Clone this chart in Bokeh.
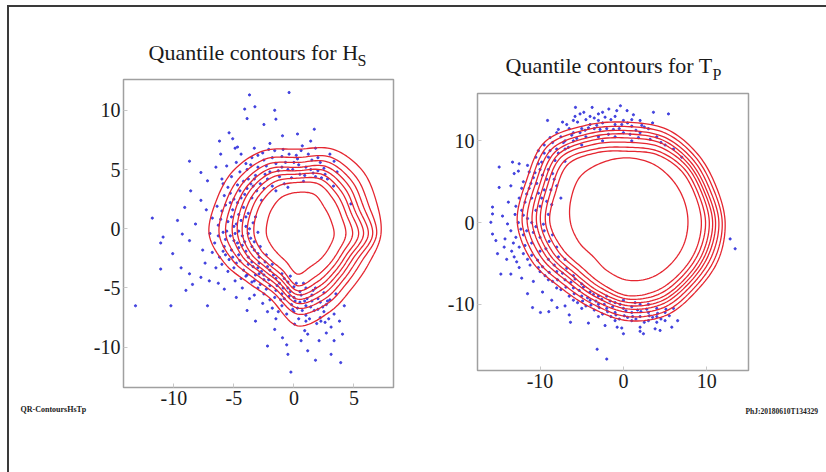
import numpy as np
from bokeh.plotting import figure
from bokeh.layouts import row, column
from bokeh.models import Range1d, Label, FixedTicker
from bokeh.embed import file_html
from bokeh.resources import INLINE

# ---------------- data ----------------
angles_deg = [0, 22.5, 45, 67.5, 90, 112.5, 135, 157.5, 180, 202.5, 225, 247.5, 270, 292.5, 315, 337.5]

# Hs panel: contour radii (one list per quantile contour, inner -> outer) around centre
hs_center = (0.3, -0.5)
hs_c1 = [3.05, 3.03, 3.2, 3.67, 3.57, 3.43, 3.04, 2.73, 2.58, 2.37, 2.29, 2.47, 3.33, 2.9, 2.81, 2.85]
hs_c2 = [4.03, 3.97, 4.22, 4.62, 4.41, 4.4, 4.09, 3.79, 3.61, 3.32, 3.09, 3.25, 4.31, 3.85, 3.64, 3.67]
hs_c3 = [4.59, 4.42, 4.71, 5.07, 4.77, 4.86, 4.59, 4.3, 4.16, 3.77, 3.47, 3.62, 4.73, 4.31, 4.03, 4.06]
hs_c4 = [5.09, 4.83, 5.16, 5.49, 5.11, 5.28, 5.05, 4.76, 4.58, 4.19, 3.82, 3.96, 5.07, 4.72, 4.39, 4.42]
hs_c5 = [5.5, 5.2, 5.56, 5.86, 5.4, 5.66, 5.46, 5.18, 4.99, 4.56, 4.13, 4.27, 5.44, 5.09, 4.72, 4.74]
hs_c6 = [5.9, 5.57, 5.96, 6.23, 5.68, 6.03, 5.87, 5.59, 5.41, 4.93, 4.44, 4.57, 5.8, 5.47, 5.04, 5.06]
hs_c7 = [6.26, 5.98, 6.4, 6.64, 6.1, 6.45, 6.32, 6.06, 5.97, 5.34, 4.79, 4.91, 6.2, 5.88, 5.4, 5.42]
hs_c8 = [6.59, 6.43, 6.89, 7.1, 6.52, 6.92, 6.82, 6.56, 6.52, 5.8, 5.17, 5.28, 6.7, 6.34, 5.8, 5.81]
hs_c9 = [6.95, 7.13, 7.65, 7.8, 7.22, 7.63, 7.6, 7.35, 7.36, 6.5, 5.76, 5.86, 7.69, 7.04, 6.41, 6.42]

# Tp panel
tp_center = (0.5, 0.0)
tp_c1 = [7.24, 7.3, 7.5, 7.8, 7.92, 7.95, 8.0, 7.36, 6.85, 6.3, 5.86, 6.38, 7.05, 7.3, 7.25, 7.25]
tp_c2 = [8.85, 8.77, 9.03, 9.03, 8.73, 9.29, 10.1, 9.39, 9.32, 8.44, 7.76, 8.1, 8.94, 9.03, 8.83, 8.84]
tp_c3 = [9.35, 9.19, 9.47, 9.48, 9.22, 9.78, 10.7, 9.97, 9.84, 9.05, 8.31, 8.59, 9.35, 9.53, 9.28, 9.3]
tp_c4 = [9.8, 9.61, 9.9, 10.03, 9.83, 10.38, 11.3, 10.56, 10.44, 9.66, 8.85, 9.09, 9.76, 10.02, 9.73, 9.75]
tp_c5 = [10.2, 9.95, 10.25, 10.53, 10.36, 10.92, 11.78, 11.02, 10.92, 10.14, 9.29, 9.48, 10.16, 10.42, 10.09, 10.12]
tp_c6 = [10.55, 10.28, 10.6, 10.94, 10.85, 11.37, 12.26, 11.49, 11.44, 10.63, 9.72, 9.87, 10.57, 10.81, 10.45, 10.48]
tp_c7 = [10.95, 10.66, 11.0, 11.35, 11.26, 11.81, 12.8, 12.01, 12.04, 11.18, 10.21, 10.32, 10.98, 11.26, 10.85, 10.89]
tp_c8 = [11.35, 11.08, 11.43, 11.85, 11.75, 12.36, 13.4, 12.59, 12.64, 11.79, 10.76, 10.81, 11.5, 11.76, 11.3, 11.35]
tp_c9 = [11.7, 11.5, 11.87, 12.35, 12.28, 12.9, 14.0, 13.17, 13.23, 12.4, 11.3, 11.3, 12.0, 12.25, 11.75, 11.8]

# Hs scatter (x, y)
hs_points = [
    (-3.7, 11.3), (-0.4, 11.5), (-4.1, 10.1), (-3.25, 10.3), (-1.6, 10.0), (-3.9, 9.3), (-2.5, 8.8), (-1.5, 9.25),
    (-0.95, 7.85), (1.7, 8.4), (0.3, 8.0), (1.4, 7.4), (-5.4, 8.1), (-6.2, 7.4), (-5.1, 7.6), (-4.7, 6.9),
    (-6.1, 6.3), (-6.5, 5.2), (-8.7, 5.7), (-7.75, 4.75), (-7.2, 4.05), (-8.6, 3.2), (-7.75, 2.4), (-9.1, 1.8),
    (-11.8, 0.9), (-9.7, 0.7), (-10.9, -0.7), (-11.1, -1.2), (-9.3, -0.45), (-8.7, -1.0), (-8.2, 0.4), (-10.1, -2.1),
    (-11.1, -3.4), (-9.4, -3.3), (-8.7, -3.8), (-7.75, -4.1), (-7.05, -4.4), (-8.45, -4.7), (-9.0, -5.2), (-10.25, -6.5),
    (-13.2, -6.5), (-7.2, -6.5), (-5.8, -5.1), (-4.8, -5.8), (-3.9, -6.9), (-3.2, -7.8), (-2.2, -9.9), (-0.95, -9.2),
    (-0.5, -10.6), (-0.25, -12.1), (1.15, -10.3), (1.8, -11.1), (3.1, -10.6), (3.9, -11.3), (3.35, -9.45), (4.05, -8.9),
    (3.1, -8.3), (3.8, -7.8), (3.35, -7.2), (4.2, -6.5), (2.8, -6.1), (2.25, -7.8), (0.6, -9.45), (2.1, -9.45),
    (1.15, -8.9), (0.05, -8.05), (4.75, 2.1), (0.6, 6.6), (2.0, 6.0), (3.35, 5.7),
    (-4, 5.5), (-3.5, 6.0), (-3, 5.2), (-2.5, 5.8), (-2, 4.8), (-1.5, 5.5), (-1, 6.1), (-0.5, 5.0), (0, 5.6),
    (0.5, 4.6), (1, 5.2), (1.5, 5.8), (2, 4.9), (-3.2, 4.5), (-2.2, 4.2), (-1.2, 4.4), (-0.2, 4.3), (0.8, 4.0),
    (1.8, 4.4), (2.5, 5.1), (-3.8, 4.2), (-2.8, 3.8), (-1.8, 3.6), (-4.5, 4.8), (-0.8, 3.8), (1.2, 6.3), (-2.6, 6.4),
    (-1.6, 6.6), (0.2, 6.2), (2.8, 4.2),
    (-5.5, 3.5), (-5, 2.5), (-4.5, 3.2), (-6, 1.5), (-5.2, 1.0), (-4.2, 1.8), (-3.5, 2.6), (-6.3, 0.3), (-5.6, -0.2),
    (-4.8, 0.4), (-4.0, 0.2), (-3.2, 1.0), (-3.0, -0.3), (-6.6, -1.2), (-5.8, -1.5), (-5.0, -1.0), (-4.3, -1.4),
    (-3.6, -0.8), (-2.8, -1.5), (-6.2, -2.4), (-5.4, -2.6), (-4.6, -2.2), (-3.8, -2.4), (-3.0, -2.1), (-2.4, -2.8),
    (-5.0, -3.3), (-4.2, -3.5), (-3.4, -3.2), (-2.7, -3.6), (-6.8, 0.9), (-7.0, -0.4), (-4.4, 2.6), (-3.9, 3.4),
    (-5.8, 2.8), (-6.8, -2.0), (-3.3, -1.8), (-4.6, -0.2), (-3.8, 1.3),
    (-2, -3.5), (-1.5, -4.2), (-1, -3.8), (-0.5, -4.5), (0, -4.9), (0.5, -5.3), (1, -5.0), (1.5, -5.6), (2, -5.9),
    (2.5, -5.4), (-2.5, -4.3), (-2, -4.8), (-1.5, -5.2), (-1, -5.5), (-0.5, -5.0), (0, -5.8), (0.5, -6.2), (1, -6.5),
    (1.5, -6.1), (2, -6.8), (-3.5, -4.5), (-3, -5.0), (-2.5, -5.5), (-2, -6.0), (-1, -6.5), (0, -7.0), (1, -7.3),
    (2.5, -7.0), (3, -6.0), (3.5, -5.5), (-0.3, -4.0), (0.8, -4.6), (1.8, -5.0), (-1.8, -3.0), (-4, -4.0),
    (-3.2, -3.9), (0.3, -6.7), (1.3, -7.6), (-1.3, -7.0), (2.2, -7.5),
    (-5.9, 3.8), (-5.3, 3.0), (-4.7, 2.2), (-4.1, 2.9), (-3.6, 3.8), (-3.1, 3.2), (-2.7, 2.4), (-5.7, 2.0), (-5.1, 1.6),
    (-4.6, 1.2), (-4.0, 1.0), (-3.4, 0.5), (-6.1, 0.8), (-5.5, 0.6), (-4.9, -0.4), (-4.3, -0.6), (-3.7, 0.0),
    (-3.3, -1.1), (-6.3, -0.6), (-5.7, -0.9), (-5.2, -1.8), (-4.6, -1.6), (-4.0, -1.9), (-3.5, -2.8), (-2.9, -2.9),
    (-6.0, -3.0), (-5.5, -3.6), (-4.8, -2.9), (-4.4, -4.2), (-3.8, -3.0), (-3.0, -3.3), (-2.5, -3.9), (-2.2, -3.2),
    (-1.7, -3.9), (-1.2, -4.6), (-0.8, -4.2), (-0.3, -5.3), (0.2, -4.6), (0.6, -5.6), (1.1, -5.9), (1.6, -5.2),
    (2.2, -6.2), (2.7, -6.4), (-1.6, -5.8), (-0.8, -5.9), (-0.2, -6.4), (0.7, -6.9), (1.7, -6.9), (-2.8, -4.7),
    (-2.3, -5.1), (-3.3, -5.6), (-2.6, -6.3), (-1.8, -6.7), (-0.6, -7.2), (0.4, -7.6), (1.9, -8.0), (2.9, -7.6),
    (-4.3, -5.0), (-3.7, -5.9),
    (-3.6, 5.4), (-3.0, 6.2), (-2.3, 5.3), (-1.8, 6.0), (-1.3, 4.9), (-0.7, 5.6), (-0.1, 5.0), (0.4, 5.4), (0.9, 4.5),
    (1.4, 5.0), (2.2, 5.6), (2.6, 4.6), (-4.2, 4.0), (-3.4, 3.6), (-2.5, 3.4), (-1.5, 3.2), (-0.5, 3.5), (-4.8, 5.6),
    (-5.2, 4.4), (-4.4, 6.3), (-3.3, 6.8), (-2.0, 7.2), (-0.9, 6.7), (0.7, 7.0), (1.8, 6.8), (3.0, 6.3), (3.6, 4.8),
    (3.3, 3.6),
    (-6.4, 1.9), (-5.9, -0.3), (-5.3, -0.6), (-4.7, -1.2), (-4.1, -1.1), (-3.5, -1.5), (-2.9, -2.4), (-2.3, -2.2),
    (-5.7, -2.2), (-5.1, -2.4), (-4.5, -2.7), (-3.9, -3.9), (-3.3, -4.4), (-2.9, -3.8), (-2.1, -4.3), (-1.4, -4.8),
    (-0.9, -5.0), (-0.4, -5.7), (0.1, -6.1), (0.9, -6.1), (1.4, -6.6), (2.4, -6.6), (-1.1, -6.0), (-0.1, -6.8),
    (1.0, -7.8), (2.6, -7.9), (-2.2, -7.0), (-1.5, -7.6), (-5.0, 0.2), (-4.4, 0.7), (-3.8, -0.4), (-5.9, -1.9),
    (-6.5, -3.3), (-4.9, -4.4), (-5.3, 2.2), (-4.7, 3.7), (-3.3, 4.2), (-2.4, 4.6), (-1.0, 5.2), (0.3, 5.9),
    (1.6, 4.7), (2.3, 4.3), (-0.4, 6.3), (-2.1, 6.7), (-3.9, 5.0), (-4.9, 6.8), (-5.6, 5.3), (-6.0, 4.2),
    (-7.3, 1.6), (-7.6, -1.8), (-7.4, -2.9), (-6.3, -4.6), (-1.6, -8.5), (0.9, -8.6), (2.7, -8.8), (-0.6, -9.8),
]

# Tp scatter (x, y)
tp_points = [
    (-3.15, -15.5), (-2.0, -16.7), (-6.35, -12.2), (-8.95, -10.9), (-9.95, -11.0), (-10.9, -10.4), (-7.95, -10.4),
    (-11.5, -8.7), (-13.5, -6.3), (-14.7, -6.3), (-15.1, -3.8), (-15.7, -1.4), (-15.9, 0.04), (-15.7, 1.06),
    (-15.7, 1.9), (-14.9, 4.3), (-14.9, 6.8), (-13.3, 7.4), (-12.5, 7.2), (-13.1, 6.0), (-15.3, -2.2), (-14.3, -3.0),
    (-13.9, -0.16), (-9.1, 12.5), (-5.75, 14.1), (-4.75, 13.5), (-3.75, 14.1), (-1.75, 13.9), (-0.36, 14.3),
    (0.44, 13.7), (3.6, 13.5), (5.4, 13.3), (12.8, -2.0), (13.4, -3.2), (2.4, -13.6), (4.4, -13.2), (0.0, -13.6),
    (-0.75, -12.8),
    (-8, 9), (-7, 10), (-6, 11), (-5, 11.5), (-4, 12), (-3, 12.5), (-2, 11.5), (-1, 12), (0, 11), (1, 11.8), (2, 11),
    (3, 11.5), (4, 10.5), (-9, 8), (-8.5, 6), (-10, 6.5), (-9.5, 4), (-11, 3), (-10, 2), (-11.5, 0.5), (-10.5, -0.5),
    (-12, -1.5), (-11, -2.5), (-12.5, -3), (-10, -3.5), (-9, -4.5), (-11.5, -4.5), (-8, -6), (-10, -6), (-7, -7),
    (-6, -8), (-5, -9), (-4, -9.5), (-3, -10), (-2, -10.5), (-1, -11), (0, -10.5), (1, -11), (2, -11.5), (3, -11),
    (4, -10.5), (5, -11), (-6, -6.5), (-4, -8.5), (-2, -9), (0, -9.5), (2, -10), (1, -12), (3, -12), (4, -12.2),
    (-7, 9), (-6, 10), (-5, 9.5), (-3, 10.5), (-1, 10.5), (1, 10), (2, 12.5), (-4, 13), (-6, 12.5), (-8, 11),
    (-9.5, 9.5), (-10.5, 8), (-11.5, 7), (-12, 5), (-12.5, 3), (-13, 1), (-13.5, -1), (-13.2, -2.5), (-14, -4.5),
    (-12.5, -5.5), (-9, 1), (-8.5, -1.5), (-8, -3), (-7, -4.5), (-9.5, -1), (-10.5, 1.5), (-7.5, 3), (-8, 4.5),
    (-9, 6.5), (-7, 7.5), (-4.5, 10.5), (-2.5, 10), (0, 12.5), (-1, 13), (-3.5, 11.5), (5, 9.5), (6, 9), (7, 8),
    (-6, -9.5), (-8, -8), (-9, -7), (-5, -7.5), (-3, -9), (-1, -9.8), (1, -10.3), (3, -10), (4, -11.5), (5, -12),
    (2, -12.8), (-1, -12), (-3, -11.5), (-5, -10.5),
    (-7.5, 10.5), (-6.5, 11.5), (-5.5, 12.3), (-4.5, 12.6), (-3.5, 12.8), (-2.5, 12.2), (-1.5, 12.6), (-0.5, 11.5),
    (0.5, 12.2), (1.5, 11.3), (2.5, 11.7), (3.5, 12.2), (-8.5, 9.8), (-9.5, 8.5), (-10.2, 7.2), (-10.8, 5.5),
    (-11.3, 4.2), (-11.8, 2.5), (-12.2, 1.5), (-12.6, 0), (-12.9, -1.8), (-12, -3.8), (-11.2, -5.2), (-10.2, -5.5),
    (-9.4, -6.5), (-8.5, -7.2), (-7.5, -8.2), (-6.5, -9), (-5.5, -9.8), (-4.5, -10.2), (-3.5, -10.7), (-2.5, -11.2),
    (-1.5, -11.5), (-0.5, -11.8), (0.5, -11.6), (1.5, -11.8), (2.5, -12.2), (3.5, -11.6), (4.5, -11.8), (5.5, -11.4),
    (6, -10.5), (-8.3, -5.2), (-7.3, -6.2), (-6.3, -7.3), (-5.3, -8.3), (-4.3, -9.2), (-3.3, -9.6), (-2.3, -10),
    (-1.3, -10.3), (0.3, -10.8), (1.7, -10.7), (2.8, -10.6), (-9.8, 3), (-10.4, 4.8), (-11, 0), (-10, -1.8),
    (-9.3, -3.2), (-8.6, 2.2), (-9.2, 5.3), (-8.2, 7.6), (-7.8, 8.5), (-6.6, 9.2), (-5.6, 10.3), (-4.6, 11.3),
    (-2.8, 11.4), (-1.8, 10.8), (0.8, 10.8), (1.8, 10.4), (3.2, 10.2), (4.5, 9.8), (-11.6, -1), (-13.8, 2.5),
    (-13.5, 4.5), (-12.6, 6.3), (-14.2, -2), (-14.5, 0.8), (-13.1, -4.2), (-10.8, -7.2), (-9.7, -8.5), (-8.6, -9.5),
    (-7, -10.2), (-12.2, -6.8), (-6.5, -11.3), (-4.2, -12.3), (-2.2, -12.6), (-0.2, -12.9), (2, -13.3), (3.8, -13),
    (5.8, -12.8), (6.5, -12), (-2.5, 13.5), (-5.2, 13.3), (-7.3, 12.3), (1.2, 13.2),
    (-8.8, 8.8), (-7.2, 9.8), (-6.2, 10.7), (-5.2, 11.0), (-4.2, 11.6), (-3.2, 11.9), (-2.2, 12.9), (-1.2, 11.4),
    (-0.2, 12.0), (1.0, 12.6), (2.2, 11.9), (-9.8, 7.4), (-10.6, 6.1), (-11.1, 4.8), (-11.6, 3.5), (-12.0, 0.9),
    (-12.3, -0.8), (-11.8, -2.8), (-11.0, -4.0), (-10.3, -4.6), (-9.7, -5.4), (-8.9, -6.1), (-7.9, -7.0), (-6.9, -7.9),
    (-5.9, -8.7), (-4.9, -9.6), (-3.9, -10.1), (-2.9, -10.4), (-1.9, -10.9), (-0.9, -11.3), (0.1, -11.4), (1.1, -11.5),
    (2.1, -10.9), (3.1, -11.4), (4.1, -11.1), (5.1, -10.6), (-9.6, -0.2), (-10.8, -1.2), (-9.2, 2.6), (-10.2, 3.6),
    (-8.7, 4.0), (-9.7, 5.8), (-8.3, 5.3), (-8.9, -2.3), (-7.8, -4.2), (-6.8, -5.6), (-5.8, -6.9), (-4.8, -7.9),
    (-3.6, -8.8), (-2.6, -9.4), (-1.6, -9.6), (-0.4, -10.0), (1.4, -9.8), (-13.4, -3.5), (-12.8, -4.8), (-12.9, 2.0),
    (-12.2, 4.2), (-11.3, 6.2), (-10.2, 8.8), (-8.8, 10.4), (-7.8, 11.4), (-6.8, 12.0), (-5.8, 13.0), (-3.0, 13.3),
    (-0.8, 13.7),
]

hs_xticks = [-10, -5, 0, 5]
hs_yticks = [-10, -5, 0, 5, 10]
tp_xticks = [-10, 0, 10]
tp_yticks = [-10, 0, 10]
tick_text = {-10: "-10", -5: "-5", 0: "0", 5: "5", 10: "10"}

title_hs = "Quantile contours for H"
title_hs_sub = "S"
title_tp = "Quantile contours for T"
title_tp_sub = "P"
note_left = "QR-ContoursHsTp"
note_right = "PhJ:20180610T134329"

# ---------------- helpers ----------------
SERIF = "Liberation Serif"
RED = "#e52630"
BLUE = "#3434dc"
FRAME_CSS = "#3a3a3a"


def closed_curve(center, radii, n=12):
    a = np.deg2rad(np.array(angles_deg))
    r = np.array(radii)
    px = center[0] + r * np.cos(a)
    py = center[1] + r * np.sin(a)
    N = len(px)
    xs, ys = [], []
    for i in range(N):
        p0 = np.array([px[i - 1], py[i - 1]])
        p1 = np.array([px[i], py[i]])
        p2 = np.array([px[(i + 1) % N], py[(i + 1) % N]])
        p3 = np.array([px[(i + 2) % N], py[(i + 2) % N]])
        for t in np.linspace(0, 1, n, endpoint=False):
            t2, t3 = t * t, t * t * t
            pt = 0.5 * ((2 * p1) + (-p0 + p2) * t + (2 * p0 - 5 * p1 + 4 * p2 - p3) * t2
                        + (-p0 + 3 * p1 - 3 * p2 + p3) * t3)
            xs.append(pt[0])
            ys.append(pt[1])
    xs.append(xs[0])
    ys.append(ys[0])
    return xs, ys


def style(p, xt, yt):
    p.xgrid.visible = False
    p.ygrid.visible = False
    p.outline_line_color = "#a0a0a0"
    p.outline_line_width = 1.5
    p.background_fill_color = "white"
    p.border_fill_color = None
    for ax, ticks in ((p.xaxis[0], xt), (p.yaxis[0], yt)):
        ax.ticker = FixedTicker(ticks=ticks)
        ax.major_label_overrides = {t: tick_text[t] for t in ticks}
        ax.axis_line_color = "#a0a0a0"
        ax.major_tick_in = 4
        ax.major_tick_out = 0
        ax.major_tick_line_color = "#c8c8c8"
        ax.minor_tick_line_color = None
        ax.major_label_text_font = SERIF
        ax.major_label_text_font_size = "20px"
        ax.major_label_text_color = "#1a1a1a"
    p.xaxis.major_label_standoff = 3
    p.yaxis.major_label_standoff = 3


def pix_label(p, frame, xr, yr, px, py, text, size, side, bold=False):
    """Place a label at canvas pixel (px, py) using the panel's own data scales."""
    fl, ft, fw, fh = frame
    x = xr[0] + (px - fl) / fw * (xr[1] - xr[0])
    y = yr[1] - (py - ft) / fh * (yr[1] - yr[0])
    p.add_layout(Label(x=x, y=y, text=text, text_font=SERIF, text_font_size=size,
                       text_color="#1a1a1a", text_font_style="bold" if bold else "normal",
                       text_align="left", text_baseline="alphabetic"), side)


def frame_css(bars):
    layers = ", ".join(f"linear-gradient({FRAME_CSS},{FRAME_CSS}) {x}px {y}px / {w}px {h}px no-repeat"
                       for (x, y, w, h) in bars)
    return {"background": layers + ", #ffffff"}


# ---------------- left panel (Hs) ----------------
hs_xr, hs_yr = (-14.2, 8.3), (-13.4, 12.6)
hs_frame = (123, 79, 270, 308)
p1 = figure(width=413, height=472, output_backend="svg", toolbar_location=None,
            x_range=Range1d(*hs_xr), y_range=Range1d(*hs_yr),
            min_border_left=123, min_border_right=20, min_border_top=79, min_border_bottom=85)
style(p1, hs_xticks, hs_yticks)
hx, hy = zip(*hs_points)
p1.scatter(list(hx), list(hy), size=2.2, color=BLUE, alpha=0.9)
for c in (hs_c1, hs_c2, hs_c3, hs_c4, hs_c5, hs_c6, hs_c7, hs_c8, hs_c9):
    xs, ys = closed_curve(hs_center, c)
    p1.line(xs, ys, line_color=RED, line_width=1.3)
pix_label(p1, hs_frame, hs_xr, hs_yr, 148, 52, title_hs, "22px", "above")
pix_label(p1, hs_frame, hs_xr, hs_yr, 357, 60, title_hs_sub, "16px", "above")
pix_label(p1, hs_frame, hs_xr, hs_yr, 20, 409, note_left, "8px", "below", bold=True)
p1.styles = frame_css([(7, 5, 2, 467), (7, 5, 406, 2)])

# ---------------- right panel (Tp) ----------------
tp_xr, tp_yr = (-17.5, 15.0), (-18.1, 15.8)
tp_frame = (477 - 413, 93, 271, 277)
p2 = figure(width=413, height=472, output_backend="svg", toolbar_location=None,
            x_range=Range1d(*tp_xr), y_range=Range1d(*tp_yr),
            min_border_left=64, min_border_right=78, min_border_top=93, min_border_bottom=102)
style(p2, tp_xticks, tp_yticks)
tx, ty = zip(*tp_points)
p2.scatter(list(tx), list(ty), size=2.2, color=BLUE, alpha=0.9)
for c in (tp_c1, tp_c2, tp_c3, tp_c4, tp_c5, tp_c6, tp_c7, tp_c8, tp_c9):
    xs, ys = closed_curve(tp_center, c)
    p2.line(xs, ys, line_color=RED, line_width=1.3)
pix_label(p2, tp_frame, tp_xr, tp_yr, 505 - 413, 65, title_tp, "22px", "above")
pix_label(p2, tp_frame, tp_xr, tp_yr, 712 - 413, 74, title_tp_sub, "16px", "above")
pix_label(p2, tp_frame, tp_xr, tp_yr, 745 - 413, 411, note_right, "7.5px", "below", bold=True)
p2.styles = frame_css([(0, 5, 413, 2)])

layout = row(column(p1), column(p2))
open("out.html", "w").write(file_html(layout, INLINE))
